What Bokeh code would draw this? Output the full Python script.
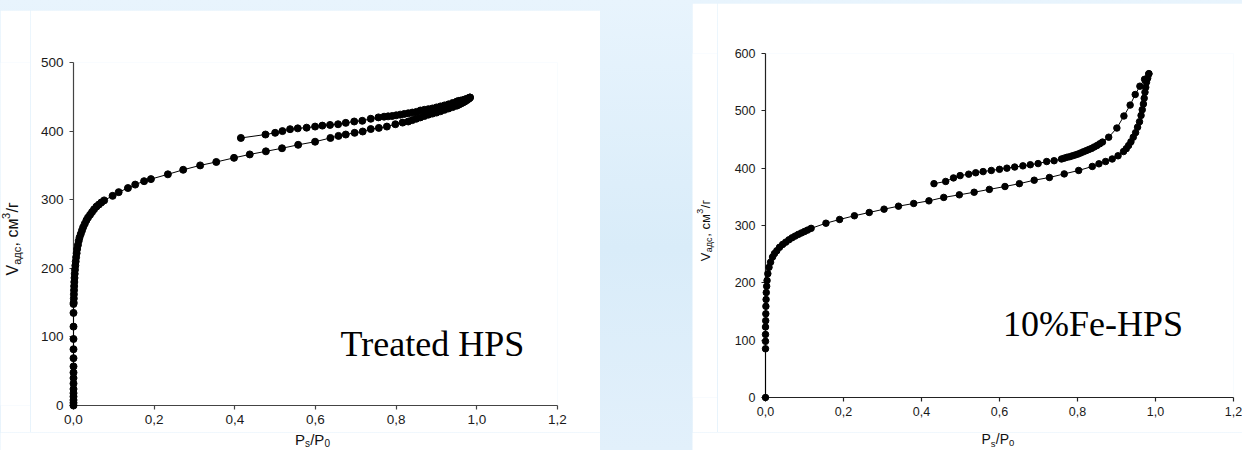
import math
from bokeh.plotting import figure
from bokeh.models import Range1d, LinearAxis, FixedTicker, CustomJSTickFormatter, Label
from bokeh.layouts import row, column
from bokeh.embed import file_html
from bokeh.resources import INLINE

# ---------------- data: Treated HPS ----------------
L_ads_x = [0.0, 0.0, 0.0, 0.0, 0.0, 0.0, 0.0, 0.0, 0.0, 0.0, 0.0, 0.0, 0.0, 0.0, 0.0, 0.0,
           0.0005, 0.0008, 0.001, 0.0013, 0.0016, 0.002, 0.0025, 0.003, 0.0037, 0.0045,
           0.0055, 0.0065, 0.0078, 0.009, 0.011, 0.013, 0.015, 0.018, 0.021, 0.024,
           0.028, 0.032, 0.036, 0.041, 0.046, 0.051, 0.057, 0.063, 0.069,
           0.076, 0.097, 0.112, 0.135, 0.153, 0.175, 0.192, 0.234, 0.272, 0.314,
           0.354, 0.398, 0.437, 0.477, 0.517, 0.557, 0.599, 0.637, 0.657, 0.675,
           0.697, 0.717, 0.737, 0.757, 0.777, 0.798, 0.816,
           0.83, 0.84, 0.85, 0.86, 0.87, 0.88, 0.89, 0.90, 0.91, 0.92,
           0.93, 0.94, 0.95, 0.955, 0.96, 0.965, 0.97, 0.975, 0.98, 0.983]
L_ads_y = [0, 4, 8, 13, 18, 24, 32, 40, 48, 57, 69, 82, 97, 115, 135, 148,
           150, 156, 162, 168, 174, 180, 186, 192, 198, 204,
           210, 216, 222, 228, 234, 240, 245, 250, 255, 260,
           265, 270, 274, 278, 282, 286, 290, 293, 296,
           299, 305.6, 311, 317, 322, 327, 330, 337, 343.6, 350,
           355, 361, 366, 370.5, 375, 380, 384.5, 390, 393, 395,
           397.5, 399.4, 403, 404.7, 406.6, 410, 412.4,
           414, 416, 418, 420, 422, 424, 425.5, 427, 429, 431,
           433, 435, 437, 438.5, 440, 441.5, 443, 445, 447, 449]
L_des_x = [0.983, 0.98, 0.975, 0.97, 0.965, 0.96, 0.955, 0.95, 0.94, 0.93,
           0.92, 0.91, 0.90, 0.89, 0.88, 0.87, 0.86, 0.85, 0.84, 0.83,
           0.82, 0.81, 0.80, 0.79, 0.78, 0.77, 0.756, 0.737, 0.716, 0.696,
           0.675, 0.656, 0.636, 0.617, 0.599, 0.578, 0.556, 0.537, 0.518, 0.50,
           0.476, 0.415]
L_des_y = [449, 448, 447, 446, 445, 444.5, 444, 443, 441, 439,
           437.5, 436, 434.5, 433, 432, 431, 430, 428, 427, 426,
           425, 424, 423, 422, 421.5, 421, 420, 418, 415, 414,
           412, 410, 409, 408, 406.6, 405, 404, 402.8, 400, 397.5,
           395, 390]

# ---------------- data: 10%Fe-HPS ----------------
R_ads_x = [0.0, 0.0, 0.0, 0.0, 0.0, 0.0005, 0.0008, 0.001, 0.0015, 0.002,
           0.003, 0.004, 0.006, 0.009, 0.013, 0.018, 0.023, 0.029, 0.036, 0.044,
           0.052, 0.060, 0.068, 0.076, 0.084, 0.092, 0.100, 0.108, 0.117, 0.155,
           0.190, 0.228, 0.266, 0.304, 0.341, 0.380, 0.419, 0.457, 0.497, 0.535,
           0.574, 0.614, 0.651, 0.689, 0.728, 0.766, 0.803, 0.838, 0.855, 0.872,
           0.889, 0.904, 0.918, 0.925, 0.931, 0.937, 0.943, 0.949, 0.954, 0.959,
           0.963, 0.966, 0.969, 0.971, 0.973, 0.975, 0.977, 0.980, 0.983]
R_ads_y = [0, 85, 98, 110, 123, 134, 146, 159, 171, 183,
           194, 204, 216, 227, 236, 245, 251, 256, 262, 267,
           271, 275, 278.5, 281.5, 284.5, 287, 289.5, 292, 295, 304,
           310.5, 317, 322.7, 328.5, 333.7, 338.4, 343, 349, 353.5, 358,
           363, 368, 373, 379, 383.7, 390, 396, 403, 407.6, 411.6,
           416, 421.6, 429, 434, 439.5, 446, 454, 462, 471.5, 481,
           492, 502, 512, 522, 532.5, 541, 550, 557, 564.6]
R_des_x = [0.983, 0.972, 0.960, 0.948, 0.935, 0.919, 0.901, 0.880, 0.864, 0.857,
           0.850, 0.843, 0.836, 0.829, 0.822, 0.815, 0.808, 0.801, 0.794, 0.787,
           0.780, 0.773, 0.766, 0.759, 0.740, 0.721, 0.699, 0.679, 0.660, 0.639,
           0.619, 0.600, 0.579, 0.558, 0.539, 0.521, 0.499, 0.482, 0.462, 0.432]
R_des_y = [564.6, 555, 543, 528.5, 510, 491, 470, 454, 445.5, 442.5,
           439.5, 437, 434.5, 432.5, 430.5, 428.5, 426.5, 424.5, 423, 421.5,
           420, 419, 417.5, 416, 413, 411.6, 408, 406, 404, 402,
           400, 398, 396, 394, 392, 389.5, 387, 383, 376.8, 373]

x_ticks = [0.0, 0.2, 0.4, 0.6, 0.8, 1.0, 1.2]
L_y_ticks = [0, 100, 200, 300, 400, 500]
R_y_ticks = [0, 100, 200, 300, 400, 500, 600]

SANS = "Liberation Sans"
SERIF = "Liberation Serif"


def blank_fig(width, height):
    f = figure(width=width, height=height, output_backend="svg",
               toolbar_location=None, x_axis_location=None, y_axis_location=None,
               x_range=Range1d(0, width), y_range=Range1d(0, height),
               min_border=0, min_border_left=0, min_border_right=0,
               min_border_top=0, min_border_bottom=0)
    f.outline_line_color = None
    f.background_fill_color = "white"
    f.border_fill_color = "white"
    f.grid.visible = False
    return f


def make_panel(width, height, borders, ymax, yticks, axis_color, tick_size,
               series, msize):
    bl, br, bt, bb = borders
    p = figure(width=width, height=height, output_backend="svg",
               toolbar_location=None, x_axis_location=None, y_axis_location=None,
               x_range=Range1d(0, 1.2), y_range=Range1d(0, ymax),
               min_border_left=bl, min_border_right=br,
               min_border_top=bt, min_border_bottom=bb)
    p.outline_line_color = None
    p.background_fill_color = "white"
    p.border_fill_color = "white"
    p.grid.visible = False

    xa = LinearAxis(ticker=FixedTicker(ticks=x_ticks),
                    formatter=CustomJSTickFormatter(
                        code="return tick.toFixed(1).replace('.', ',');"))
    ya = LinearAxis(ticker=FixedTicker(ticks=yticks))
    for ax in (xa, ya):
        ax.axis_line_color = axis_color
        ax.axis_line_width = 1.2
        ax.major_tick_line_color = axis_color
        ax.major_tick_line_width = 1.2
        ax.major_tick_in = 0
        ax.major_tick_out = 4
        ax.minor_tick_line_color = None
        ax.major_label_text_font = SANS
        ax.major_label_text_font_size = tick_size
        ax.major_label_text_color = "#1a1a1a"
    xa.major_label_standoff = 5
    ya.major_label_standoff = 6
    p.add_layout(xa, "below")
    p.add_layout(ya, "left")

    for xs, ys in series:
        p.line(xs, ys, line_color="black", line_width=1, level="overlay")
        p.scatter(xs, ys, size=msize, fill_color="black", line_color="black",
                  level="overlay")
    return p


def add_pieces(f, x, y, pieces, angle=0.0):
    for text, dx, dy, size in pieces:
        f.add_layout(Label(x=x, y=y, x_offset=dx, y_offset=dy, text=text,
                           angle=angle, text_font=SANS, text_font_size=size,
                           text_color="#111111", text_baseline="alphabetic",
                           text_align="left"))


# ---------------- left panel (page x 0..600, y 10..450) ----------------
p1 = make_panel(570, 422, (43, 43, 52, 27), 500, L_y_ticks, "#444444", "13.5px",
                [(L_ads_x, L_ads_y), (L_des_x, L_des_y)], 7)
p1.add_layout(Label(x=0.662, y=89, text="Treated HPS", text_font=SERIF,
                    text_font_size="36px", text_color="black",
                    text_baseline="alphabetic"))
ylab1 = blank_fig(30, 422)
add_pieces(ylab1, 12, 160, [
    ("V", 0, 0, "16px"),
    ("адс", 4.5, 10.7, "11px"),
    (", см", 0, 29, "16px"),
    ("3", -6.5, 56.5, "11px"),
    ("/г", 0, 63, "16px"),
], angle=math.pi / 2)
xlab1 = blank_fig(600, 18)
add_pieces(xlab1, 294.5, 11.5, [
    ("P", 0, 0, "15px"),
    ("s", 10, -4, "10px"),
    ("/P", 15.2, 0, "15px"),
    ("0", 29.4, -4, "10px"),
])
left = column(row(ylab1, p1), xlab1)
left.margin = (10, 0, 0, 0)

# ---------------- right panel (page x 692..1242, y 3..450) ----------------
p2 = make_panel(525, 429, (48, 9, 50, 35), 600, R_y_ticks, "#222222", "12.5px",
                [(R_ads_x, R_ads_y), (R_des_x, R_des_y)], 6.5)
p2.add_layout(Label(x=0.609, y=127.4, text="10%Fe-HPS", text_font=SERIF,
                    text_font_size="36px", text_color="black",
                    text_baseline="alphabetic"))
ylab2 = blank_fig(25, 429)
add_pieces(ylab2, 12.5, 170, [
    ("V", 0, 0, "13px"),
    ("адс", 3.5, 9, "9px"),
    (", см", 0, 24.5, "13px"),
    ("3", -5, 47.5, "9px"),
    ("/г", 0, 53, "13px"),
], angle=math.pi / 2)
xlab2 = blank_fig(550, 18)
add_pieces(xlab2, 289, 11.2, [
    ("P", 0, 0, "14px"),
    ("s", 9.3, -4, "9.5px"),
    ("/P", 14.3, 0, "14px"),
    ("0", 27.5, -4, "9.5px"),
])
right = column(row(ylab2, p2), xlab2)
right.margin = (3, 0, 0, 0)

layout = row(left, right, spacing=92,
             styles={"background": "linear-gradient(180deg, #e8f4fd 0%, #d9ecf9 55%, #e2f0fb 100%)"})

open("out.html", "w").write(file_html(layout, INLINE))
